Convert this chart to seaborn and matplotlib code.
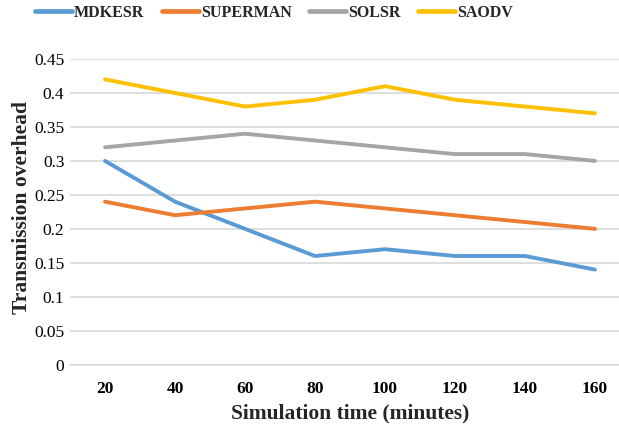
import matplotlib
matplotlib.use("Agg")
import matplotlib.pyplot as plt
import seaborn as sns
import pandas as pd

# ---- data ----
times = [20, 40, 60, 80, 100, 120, 140, 160]
mdkesr = [0.30, 0.24, 0.20, 0.16, 0.17, 0.16, 0.16, 0.14]
superman = [0.24, 0.22, 0.23, 0.24, 0.23, 0.22, 0.21, 0.20]
solsr = [0.32, 0.33, 0.34, 0.33, 0.32, 0.31, 0.31, 0.30]
saodv = [0.42, 0.40, 0.38, 0.39, 0.41, 0.39, 0.38, 0.37]
series_names = ["MDKESR", "SUPERMAN", "SOLSR", "SAODV"]
colors = ["#5B9BD5", "#ED7D31", "#A5A5A5", "#FFC000"]
yticks = [0, 0.05, 0.1, 0.15, 0.2, 0.25, 0.3, 0.35, 0.4, 0.45]
ytick_labels = ["0", "0.05", "0.1", "0.15", "0.2", "0.25", "0.3", "0.35", "0.4", "0.45"]

df = pd.DataFrame({
    "time": times * 4,
    "value": mdkesr + superman + solsr + saodv,
    "series": [n for n in series_names for _ in times],
})

sns.set_theme(style="white")
plt.rcParams["font.family"] = ["Liberation Serif", "DejaVu Serif"]

W, H = 619, 428
fig = plt.figure(figsize=(W / 100, H / 100), dpi=100)
ax_left, ax_right, ax_top, ax_bottom = 70, 630, 59, 364.7
ax = fig.add_axes([ax_left / W, 1 - ax_bottom / H, (ax_right - ax_left) / W, (ax_bottom - ax_top) / H])

sns.lineplot(data=df, x="time", y="value", hue="series", hue_order=series_names,
             palette=colors, linewidth=2.8, ax=ax, legend=False, sort=False)
for ln in ax.get_lines():
    ln.set_solid_capstyle("round")
    ln.set_solid_joinstyle("round")

ax.set_xlim(10, 170)
ax.set_ylim(0, 0.45)
ax.set_xticks(times)
ax.set_xticklabels([str(t) for t in times], fontweight="bold", fontsize=12.5)
ax.set_yticks(yticks)
ax.set_yticklabels(ytick_labels, fontsize=12.5)
ax.tick_params(axis="both", length=0, colors="#000000")
ax.tick_params(axis="x", pad=12)
ax.tick_params(axis="y", pad=4)
ax.grid(axis="y", color="#D4D4D4", linewidth=1.1)
ax.set_axisbelow(True)
for s in ["top", "right", "left"]:
    ax.spines[s].set_visible(False)
ax.spines["bottom"].set_color("#D4D4D4")
ax.spines["bottom"].set_linewidth(1.1)
ax.set_xlabel("")
ax.set_ylabel("")

fig.text(350 / W, 1 - 413 / H, "Simulation time (minutes)", ha="center", va="center",
         fontsize=15.5, fontweight="bold")
fig.text(22 / W, 1 - 208 / H, "Transmission overhead", ha="center", va="center",
         rotation=90, fontsize=15.5, fontweight="bold")

handles = [plt.Line2D([], [], color=c, linewidth=3.4, solid_capstyle="round") for c in colors]
fig.legend(handles, series_names, loc="center", bbox_to_anchor=(274 / W, 1 - 13 / H),
           ncol=4, frameon=False, handlelength=2.3, handletextpad=0.15, columnspacing=1.1,
           prop={"weight": "bold", "size": 11.5})

fig.savefig("out.png", dpi=100)
